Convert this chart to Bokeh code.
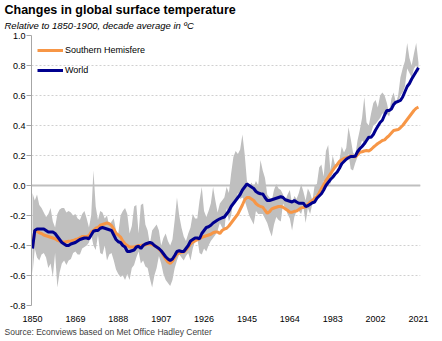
from bokeh.plotting import figure
from bokeh.models import (ColumnDataSource, FixedTicker, Legend, LegendItem, Span,
                          Title, Range1d, PrintfTickFormatter)
from bokeh.embed import file_html
from bokeh.resources import INLINE

# ---------------- data ----------------
years = list(range(1850, 2022))

world = [
    -0.42, -0.30, -0.29, -0.29, -0.29, -0.29, -0.30, -0.31, -0.31, -0.31,   # 1850-59
    -0.32, -0.34, -0.36, -0.38, -0.39, -0.40, -0.40, -0.39, -0.385, -0.38,  # 1860-69
    -0.37, -0.36, -0.355, -0.35, -0.35, -0.355, -0.33, -0.305, -0.30, -0.30,  # 1870-79
    -0.285, -0.28, -0.285, -0.29, -0.295, -0.30, -0.33, -0.36, -0.375, -0.38,  # 1880-89
    -0.40, -0.41, -0.44, -0.44, -0.435, -0.43, -0.41, -0.405, -0.42, -0.40,   # 1890-99
    -0.39, -0.385, -0.38, -0.385, -0.40, -0.41, -0.42, -0.435, -0.455, -0.475,  # 1900-09
    -0.49, -0.50, -0.49, -0.467, -0.44, -0.435, -0.44, -0.44, -0.42, -0.40,   # 1910-19
    -0.37, -0.36, -0.35, -0.35, -0.355, -0.32, -0.30, -0.28, -0.275, -0.265,  # 1920-29
    -0.25, -0.24, -0.23, -0.222, -0.215, -0.21, -0.19, -0.17, -0.14, -0.12,  # 1930-39
    -0.10, -0.08, -0.06, -0.03, -0.01, 0.01, 0.00, -0.01, -0.02, -0.04,      # 1940-49
    -0.05, -0.055, -0.056, -0.08, -0.10, -0.10, -0.095, -0.09, -0.085, -0.08,  # 1950-59
    -0.075, -0.08, -0.095, -0.10, -0.105, -0.11, -0.10, -0.11, -0.118, -0.118,  # 1960-69
    -0.118, -0.14, -0.135, -0.125, -0.115, -0.11, -0.085, -0.07, -0.055, -0.03,  # 1970-79
    0.00, 0.02, 0.04, 0.055, 0.075, 0.09, 0.115, 0.145, 0.16, 0.175,         # 1980-89
    0.185, 0.193, 0.193, 0.195, 0.225, 0.245, 0.26, 0.278, 0.30, 0.322,      # 1990-99
    0.322, 0.34, 0.37, 0.395, 0.42, 0.435, 0.47, 0.50, 0.50, 0.51,           # 2000-09
    0.54, 0.556, 0.56, 0.567, 0.59, 0.625, 0.66, 0.68, 0.71, 0.735,          # 2010-19
    0.76, 0.785,                                                             # 2020-21
]

south = [
    -0.41, -0.30, -0.305, -0.315, -0.32, -0.33, -0.335, -0.34, -0.345, -0.35,  # 1850-59
    -0.355, -0.365, -0.37, -0.375, -0.378, -0.375, -0.372, -0.37, -0.367, -0.36,  # 1860-69
    -0.356, -0.35, -0.34, -0.34, -0.34, -0.335, -0.31, -0.30, -0.285, -0.28,  # 1870-79
    -0.265, -0.26, -0.255, -0.25, -0.255, -0.267, -0.29, -0.32, -0.33, -0.344,  # 1880-89
    -0.37, -0.39, -0.40, -0.41, -0.41, -0.41, -0.405, -0.40, -0.40, -0.396,  # 1890-99
    -0.396, -0.39, -0.39, -0.395, -0.40, -0.41, -0.425, -0.44, -0.465, -0.49,  # 1900-09
    -0.51, -0.52, -0.505, -0.48, -0.456, -0.45, -0.445, -0.444, -0.43, -0.41,  # 1910-19
    -0.39, -0.378, -0.37, -0.362, -0.355, -0.345, -0.34, -0.335, -0.33, -0.325,  # 1920-29
    -0.315, -0.31, -0.31, -0.32, -0.30, -0.29, -0.285, -0.27, -0.25, -0.23,  # 1930-39
    -0.21, -0.19, -0.16, -0.13, -0.095, -0.08, -0.08, -0.09, -0.10, -0.12,   # 1940-49
    -0.133, -0.14, -0.144, -0.165, -0.185, -0.175, -0.156, -0.15, -0.145, -0.14,  # 1950-59
    -0.14, -0.145, -0.156, -0.165, -0.178, -0.178, -0.172, -0.17, -0.16, -0.149,  # 1960-69
    -0.146, -0.144, -0.125, -0.11, -0.10, -0.085, -0.073, -0.05, -0.022, 0.005,  # 1970-79
    0.033, 0.055, 0.078, 0.10, 0.122, 0.14, 0.16, 0.172, 0.18, 0.184,        # 1980-89
    0.19, 0.196, 0.195, 0.19, 0.205, 0.222, 0.225, 0.23, 0.233, 0.23,        # 1990-99
    0.24, 0.255, 0.267, 0.28, 0.289, 0.30, 0.304, 0.32, 0.333, 0.35,         # 2000-09
    0.367, 0.37, 0.373, 0.385, 0.40, 0.42, 0.44, 0.46, 0.48, 0.50,           # 2010-19
    0.515, 0.522,                                                            # 2020-21
]

band_hi = [
    -0.05, -0.10, -0.06, -0.13, -0.15, -0.18, -0.21, -0.19, -0.15, -0.24,   # 1850-59
    -0.28, -0.19, -0.16, -0.15, -0.15, -0.18, -0.17, -0.18, -0.20, -0.19,   # 1860-69
    -0.22, -0.23, -0.19, -0.17, -0.22, -0.28, -0.20, 0.10, -0.14, -0.23,    # 1870-79
    -0.17, -0.18, -0.22, -0.20, -0.27, -0.24, -0.22, -0.30, -0.32, -0.20,   # 1880-89
    -0.17, -0.15, -0.19, -0.32, -0.27, -0.14, -0.13, -0.32, -0.13, -0.12,   # 1890-99
    -0.26, -0.30, -0.39, -0.30, -0.28, -0.26, -0.30, -0.40, -0.35, -0.32,   # 1900-09
    -0.37, -0.40, -0.36, -0.23, -0.08, -0.20, -0.28, -0.34, -0.37, -0.32,   # 1910-19
    -0.28, -0.19, -0.22, -0.22, -0.10, -0.01, -0.17, -0.21, -0.17, -0.12,   # 1920-29
    -0.01, -0.10, -0.18, -0.12, -0.10, -0.08, -0.01, -0.05, 0.08, 0.19,     # 1930-39
    0.23, 0.21, 0.24, 0.34, 0.21, 0.03, -0.01, 0.02, -0.01, 0.03,           # 1940-49
    0.00, 0.17, 0.10, 0.05, -0.06, -0.08, -0.10, -0.03, 0.01, -0.02,        # 1950-59
    -0.03, -0.06, -0.10, -0.06, -0.03, -0.12, -0.07, -0.09, -0.05, 0.01,    # 1960-69
    -0.04, -0.10, -0.02, -0.05, -0.10, 0.00, 0.01, 0.12, 0.14, 0.06,        # 1970-79
    0.23, 0.27, 0.10, 0.20, 0.14, 0.15, 0.17, 0.26, 0.22, 0.25,             # 1980-89
    0.39, 0.31, 0.22, 0.20, 0.30, 0.37, 0.45, 0.59, 0.42, 0.40,             # 1990-99
    0.48, 0.55, 0.57, 0.52, 0.60, 0.62, 0.60, 0.55, 0.48, 0.58,             # 2000-09
    0.62, 0.55, 0.60, 0.72, 0.78, 0.83, 0.95, 0.85, 0.80, 0.88,             # 2010-19
    0.95, 0.82,                                                             # 2020-21
]

band_lo = [
    -0.59, -0.42, -0.48, -0.50, -0.46, -0.45, -0.48, -0.55, -0.52, -0.61,   # 1850-59
    -0.45, -0.68, -0.58, -0.52, -0.50, -0.53, -0.50, -0.49, -0.45, -0.44,   # 1860-69
    -0.46, -0.46, -0.42, -0.41, -0.40, -0.38, -0.33, -0.40, -0.43, -0.33,   # 1870-79
    -0.45, -0.46, -0.40, -0.50, -0.46, -0.45, -0.50, -0.56, -0.59, -0.61,   # 1880-89
    -0.60, -0.63, -0.59, -0.63, -0.55, -0.53, -0.48, -0.44, -0.52, -0.50,   # 1890-99
    -0.54, -0.55, -0.62, -0.68, -0.60, -0.55, -0.47, -0.52, -0.59, -0.63,   # 1900-09
    -0.65, -0.67, -0.63, -0.55, -0.50, -0.46, -0.48, -0.50, -0.47, -0.45,   # 1910-19
    -0.50, -0.42, -0.37, -0.35, -0.45, -0.46, -0.42, -0.44, -0.40, -0.37,   # 1920-29
    -0.35, -0.33, -0.30, -0.25, -0.28, -0.30, -0.15, -0.24, -0.20, -0.10,   # 1930-39
    -0.12, -0.05, -0.09, -0.08, -0.10, -0.15, -0.20, -0.23, -0.26, -0.17,   # 1940-49
    -0.19, -0.19, -0.19, -0.22, -0.25, -0.30, -0.34, -0.26, -0.21, -0.23,   # 1950-59
    -0.24, -0.12, -0.15, -0.19, -0.22, -0.30, -0.21, -0.17, -0.17, -0.19,   # 1960-69
    -0.14, -0.25, -0.15, -0.19, -0.12, -0.07, -0.06, -0.05, -0.03, 0.03,    # 1970-79
    0.00, 0.05, 0.01, 0.10, 0.12, 0.14, 0.13, 0.16, 0.17, 0.18,             # 1980-89
    0.21, 0.11, 0.10, 0.15, 0.19, 0.25, 0.30, 0.28, 0.30, 0.32,             # 1990-99
    0.35, 0.40, 0.41, 0.43, 0.45, 0.48, 0.48, 0.48, 0.46, 0.52,             # 2000-09
    0.54, 0.54, 0.55, 0.60, 0.62, 0.66, 0.78, 0.75, 0.72, 0.78,             # 2010-19
    0.80, 0.75,                                                             # 2020-21
]

x_ticks = [1850, 1869, 1888, 1907, 1926, 1945, 1964, 1983, 2002, 2021]
y_ticks = [-0.8, -0.6, -0.4, -0.2, 0.0, 0.2, 0.4, 0.6, 0.8, 1.0]

title_text = "Changes in global surface temperature"
subtitle_text = "Relative to 1850-1900, decade average in ºC"
source_text = "Source: Econviews based on Met Office Hadley Center"
series_names = ["Southern Hemisfere", "World"]

# ---------------- figure ----------------
FONT = "Liberation Sans"
ORANGE = "#F79646"
NAVY = "#00008F"
GREY = "#BFBFBF"

src = ColumnDataSource(dict(year=years, world=world, south=south, hi=band_hi, lo=band_lo))

p = figure(width=442, height=341, output_backend="svg", toolbar_location=None,
           x_range=Range1d(1849.55, 2021.9), y_range=Range1d(-0.8, 1.0),
           min_border_left=31, min_border_right=22, min_border_top=35,
           min_border_bottom=36, title=title_text)
p.outline_line_color = None
p.background_fill_color = "white"
p.border_fill_color = "white"

# titles
p.title.text_font = FONT
p.title.text_font_size = "12.5px"
p.title.text_font_style = "bold"
p.title.text_color = "#000000"
p.title.align = "left"
p.title.offset = -27
p.title.standoff = -6
p.add_layout(Title(text=subtitle_text, text_font=FONT, text_font_size="9.5px",
                   text_font_style="italic", text_color="#000000", align="left",
                   offset=-27, standoff=9), "above")
p.add_layout(Title(text=source_text, text_font=FONT, text_font_size="8.5px",
                   text_font_style="normal", text_color="#404040", align="left",
                   offset=-27, standoff=0), "below")

# grid and axes
p.xgrid.grid_line_color = None
p.ygrid.ticker = FixedTicker(ticks=y_ticks)
p.ygrid.grid_line_color = "#D0D0D0"
p.ygrid.grid_line_dash = "2 2"
p.ygrid.grid_line_width = 1

p.yaxis.ticker = FixedTicker(ticks=y_ticks)
p.yaxis.formatter = PrintfTickFormatter(format="%.1f")
p.yaxis.axis_line_color = "#A6A6A6"
p.yaxis.major_tick_line_color = "#A6A6A6"
p.yaxis.major_tick_out = 5
p.yaxis.major_tick_in = 0
p.yaxis.minor_tick_line_color = None
p.yaxis.major_label_text_font = FONT
p.yaxis.major_label_text_font_size = "9px"
p.yaxis.major_label_text_color = "#000000"
p.yaxis.major_label_standoff = 1

p.xaxis.ticker = FixedTicker(ticks=x_ticks)
p.xaxis.axis_line_color = None
p.xaxis.major_tick_line_color = None
p.xaxis.minor_tick_line_color = None
p.xaxis.major_label_text_font = FONT
p.xaxis.major_label_text_font_size = "9px"
p.xaxis.major_label_text_color = "#000000"
p.xaxis.major_label_standoff = 4

zero = Span(location=0, dimension="width", line_color=GREY, line_width=2, level="underlay")
p.add_layout(zero)

# data
p.varea(x="year", y1="lo", y2="hi", source=src, fill_color=GREY, fill_alpha=1.0)
r_s = p.line(x="year", y="south", source=src, line_color=ORANGE, line_width=3)
r_w = p.line(x="year", y="world", source=src, line_color=NAVY, line_width=3)

legend = Legend(items=[LegendItem(label=series_names[0], renderers=[r_s]),
                       LegendItem(label=series_names[1], renderers=[r_w])],
                location=(6, 230), orientation="vertical",
                glyph_width=26, glyph_height=10, label_height=10, label_width=10,
                spacing=10, padding=0, margin=0, label_standoff=2,
                label_text_font=FONT, label_text_font_size="9px",
                label_text_color="#000000",
                border_line_color=None, background_fill_alpha=0)
p.add_layout(legend)

open("out.html", "w").write(file_html(p, INLINE))
